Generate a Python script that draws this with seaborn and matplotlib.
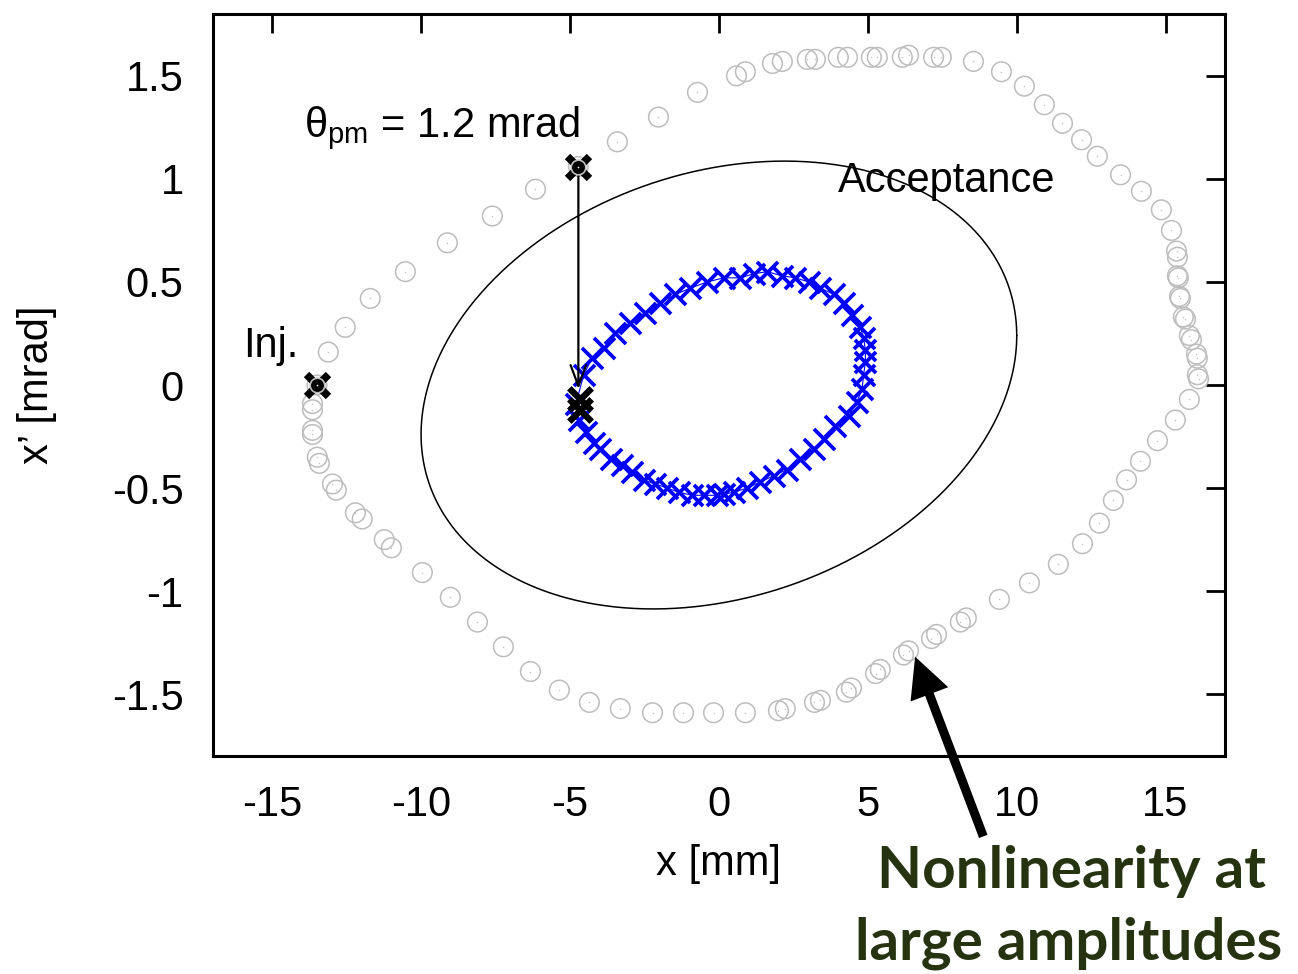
import numpy as np
import matplotlib
matplotlib.use("Agg")
import matplotlib.pyplot as plt
import seaborn as sns

# Large-amplitude particle after injection, tracked turn by turn (x [mm], x' [mrad])
orbit_x = [-13.50, -13.12, -12.55, -11.71, -10.53, -9.12, -7.61, -6.16, -4.72, -3.41,
           -2.03, -0.72, 0.59, 0.89, 1.80, 2.13, 2.97, 3.24, 4.01, 4.32,
           5.12, 5.32, 6.16, 6.37, 7.21, 7.47, 8.55, 9.49, 10.26, 10.93,
           11.54, 12.18, 12.71, 13.49, 14.19, 14.86, 15.20, 15.37, 15.40, 15.40,
           15.43, 15.47, 15.50, 15.60, 15.67, 15.80, 15.87, 16.04, 16.07, 16.07,
           16.11, 15.80, 15.33, 14.73, 14.16, 13.69, 13.25, 12.78, 12.21, 11.40,
           10.43, 9.42, 8.31, 8.11, 7.31, 7.14, 6.37, 6.20, 5.42, 5.26,
           4.45, 4.28, 3.41, 3.21, 2.23, 2.00, 0.89, -0.18, -1.19, -2.23,
           -3.31, -4.35, -5.36, -6.33, -7.24, -8.11, -9.02, -9.96, -11.00, -11.24,
           -11.98, -12.21, -12.85, -12.98, -13.42, -13.49, -13.65, -13.65, -13.65, -13.65]
orbit_xp = [0.00, 0.16, 0.28, 0.42, 0.55, 0.69, 0.82, 0.95, 1.06, 1.18,
            1.30, 1.42, 1.50, 1.52, 1.56, 1.57, 1.58, 1.58, 1.59, 1.59,
            1.59, 1.59, 1.59, 1.60, 1.59, 1.59, 1.57, 1.52, 1.45, 1.36,
            1.27, 1.19, 1.11, 1.02, 0.94, 0.85, 0.75, 0.65, 0.62, 0.53,
            0.52, 0.43, 0.42, 0.33, 0.32, 0.24, 0.22, 0.15, 0.13, 0.05,
            0.03, -0.07, -0.17, -0.27, -0.37, -0.46, -0.56, -0.67, -0.77, -0.87,
            -0.96, -1.04, -1.13, -1.15, -1.21, -1.23, -1.29, -1.31, -1.38, -1.40,
            -1.47, -1.49, -1.53, -1.54, -1.57, -1.58, -1.59, -1.59, -1.59, -1.59,
            -1.57, -1.54, -1.48, -1.39, -1.27, -1.15, -1.03, -0.91, -0.79, -0.75,
            -0.65, -0.62, -0.51, -0.48, -0.38, -0.35, -0.24, -0.22, -0.12, -0.09]

# Particle after the pulsed-multipole kick, tracked turn by turn
beam_x = [-4.80, -4.54, -4.26, -3.87, -3.48, -2.97, -2.47, -1.97, -1.46, -0.96,
          -0.40, 0.16, 0.72, 1.17, 1.62, 2.12, 2.57, 3.02, 3.41, 3.86,
          4.19, 4.47, 4.75, 4.86, 4.92, 4.92, 4.86, 4.81, 4.64, 4.36,
          3.91, 3.52, 3.18, 2.74, 2.29, 1.84, 1.39, 0.95, 0.50, 0.16,
          -0.06, -0.51, -0.90, -1.35, -1.74, -2.13, -2.53, -2.92, -3.25, -3.64,
          -3.98, -4.21, -4.48, -4.71]
beam_xp = [-0.09, 0.05, 0.13, 0.18, 0.25, 0.30, 0.35, 0.40, 0.44, 0.47,
           0.50, 0.52, 0.52, 0.54, 0.55, 0.53, 0.52, 0.50, 0.47, 0.44,
           0.40, 0.34, 0.28, 0.23, 0.17, 0.11, 0.05, -0.02, -0.08, -0.15,
           -0.20, -0.26, -0.31, -0.36, -0.41, -0.44, -0.47, -0.50, -0.52, -0.53,
           -0.535, -0.535, -0.535, -0.52, -0.50, -0.48, -0.46, -0.42, -0.39, -0.36,
           -0.31, -0.28, -0.23, -0.17]

# Injection point and the kick
inj_x, inj_xp = -13.50, 0.00
kick_x, kick_xp = -4.72, 1.06
kicked_x = [-4.68, -4.68]
kicked_xp = [-0.07, -0.12]
theta_pm = 1.2  # mrad

# Ring acceptance (Twiss parameters; emittance in mm mrad, beta in m)
acc_eps = 10.6
acc_beta = 9.44
acc_alpha = -0.226

x_ticks = [-15, -10, -5, 0, 5, 10, 15]
x_ticklabels = ["-15", "-10", "-5", "0", "5", "10", "15"]
y_ticks = [-1.5, -1.0, -0.5, 0.0, 0.5, 1.0, 1.5]
y_ticklabels = ["-1.5", "-1", "-0.5", "0", "0.5", "1", "1.5"]

sns.set_theme(style="white")
plt.rcParams["font.family"] = ["Liberation Sans", "DejaVu Sans"]
plt.rcParams["mathtext.fontset"] = "custom"
plt.rcParams["mathtext.rm"] = "Liberation Sans"
plt.rcParams["mathtext.it"] = "Liberation Sans:italic"
plt.rcParams["axes.unicode_minus"] = False
plt.rcParams["text.color"] = "black"
plt.rcParams["axes.labelcolor"] = "black"

fig = plt.figure(figsize=(12.98, 9.74), dpi=100)
ax = fig.add_axes([0.1639, 0.2238, 0.7799, 0.7618])

# acceptance ellipse
phi = np.linspace(0, 2 * np.pi, 721)
acc_xs = np.sqrt(acc_eps * acc_beta) * np.cos(phi)
acc_xps = -np.sqrt(acc_eps / acc_beta) * (acc_alpha * np.cos(phi) + np.sin(phi))
sns.lineplot(x=acc_xs, y=acc_xps, sort=False, estimator=None, color="black",
             linewidth=1.1, ax=ax, zorder=2)

# large-amplitude orbit: open grey circles with a small centre dot
grey = "#bdbdbd"
sns.scatterplot(x=orbit_x, y=orbit_xp, marker="o", s=200, color="none",
                edgecolor=grey, linewidth=1.1, ax=ax, zorder=3)
sns.scatterplot(x=orbit_x, y=orbit_xp, marker=".", s=2, color=grey,
                edgecolor=grey, linewidth=0.3, ax=ax, zorder=3)

# kicked particle: blue crosses joined by a thin line
bx = beam_x + beam_x[:1]
by = beam_xp + beam_xp[:1]
sns.lineplot(x=bx, y=by, sort=False, estimator=None, color="blue",
             linewidth=0.8, ax=ax, zorder=4)
sns.scatterplot(x=beam_x, y=beam_xp, marker="x", s=230, color="blue",
                edgecolor="blue", linewidth=2.7, ax=ax, zorder=5)

# injection point and kick marker
sns.scatterplot(x=[inj_x, kick_x], y=[inj_xp, kick_xp], marker="x", s=250,
                color="black", edgecolor="black", linewidth=5.5, ax=ax, zorder=6)
sns.scatterplot(x=[inj_x, kick_x], y=[inj_xp, kick_xp], marker="o", s=110,
                color="black", edgecolor=grey, linewidth=1.2, ax=ax, zorder=7)
sns.scatterplot(x=[inj_x, kick_x], y=[inj_xp, kick_xp], marker=".", s=3,
                color="white", edgecolor="white", linewidth=0.3, ax=ax, zorder=8)
sns.scatterplot(x=kicked_x, y=kicked_xp, marker="x", s=260, color="black",
                edgecolor="black", linewidth=4.6, ax=ax, zorder=6)

# kick arrow
ax.annotate("", xy=(kick_x, kick_xp - theta_pm + 0.12), xytext=(kick_x, kick_xp),
            arrowprops=dict(arrowstyle="->,head_length=0.75,head_width=0.28",
                            color="black", lw=1.6, shrinkA=0, shrinkB=0,
                            mutation_scale=20), zorder=5)

ax.set_xlim(-17, 17)
ax.set_ylim(-1.8, 1.8)
ax.set_xticks(x_ticks)
ax.set_xticklabels(x_ticklabels)
ax.set_yticks(y_ticks)
ax.set_yticklabels(y_ticklabels)
ax.tick_params(direction="in", length=14, width=2.0, top=True, right=True,
               labelsize=30, pad=21, colors="black")
for sp in ax.spines.values():
    sp.set_linewidth(2.2)
    sp.set_color("black")

ax.set_xlabel("x [mm]", fontsize=30)
ax.set_ylabel("x\u2019 [mrad]", fontsize=30)
ax.xaxis.set_label_coords(0.5, -0.118)
ax.yaxis.set_label_coords(-0.154, 0.5)

ax.text(-13.95, 1.205, "\u03b8$_{\\mathrm{pm}}$ = 1.2 mrad", fontsize=30,
        ha="left", va="baseline")
ax.text(4.01, 0.937, "Acceptance", fontsize=30, ha="left", va="baseline")
ax.text(-15.97, 0.136, "Inj.", fontsize=30, ha="left", va="baseline")

# pointer to the distorted large-amplitude orbit
ax.annotate("", xy=(6.59, -1.318), xytext=(8.88, -2.19), annotation_clip=False,
            arrowprops=dict(arrowstyle="simple,head_length=2.9,head_width=2.9,tail_width=0.65",
                            mutation_scale=10, fc="black", ec="black", lw=0,
                            shrinkA=0, shrinkB=0))

note_color = "#253311"
fig.text(1071 / 1298, 1 - 888 / 974, "Nonlinearity at", fontsize=42,
         fontweight="bold", family=["Lato", "DejaVu Sans"], color=note_color,
         ha="center", va="baseline")
fig.text(1069 / 1298, 1 - 960 / 974, "large amplitudes", fontsize=42,
         fontweight="bold", family=["Lato", "DejaVu Sans"], color=note_color,
         ha="center", va="baseline")

fig.savefig("out.png", dpi=100)
